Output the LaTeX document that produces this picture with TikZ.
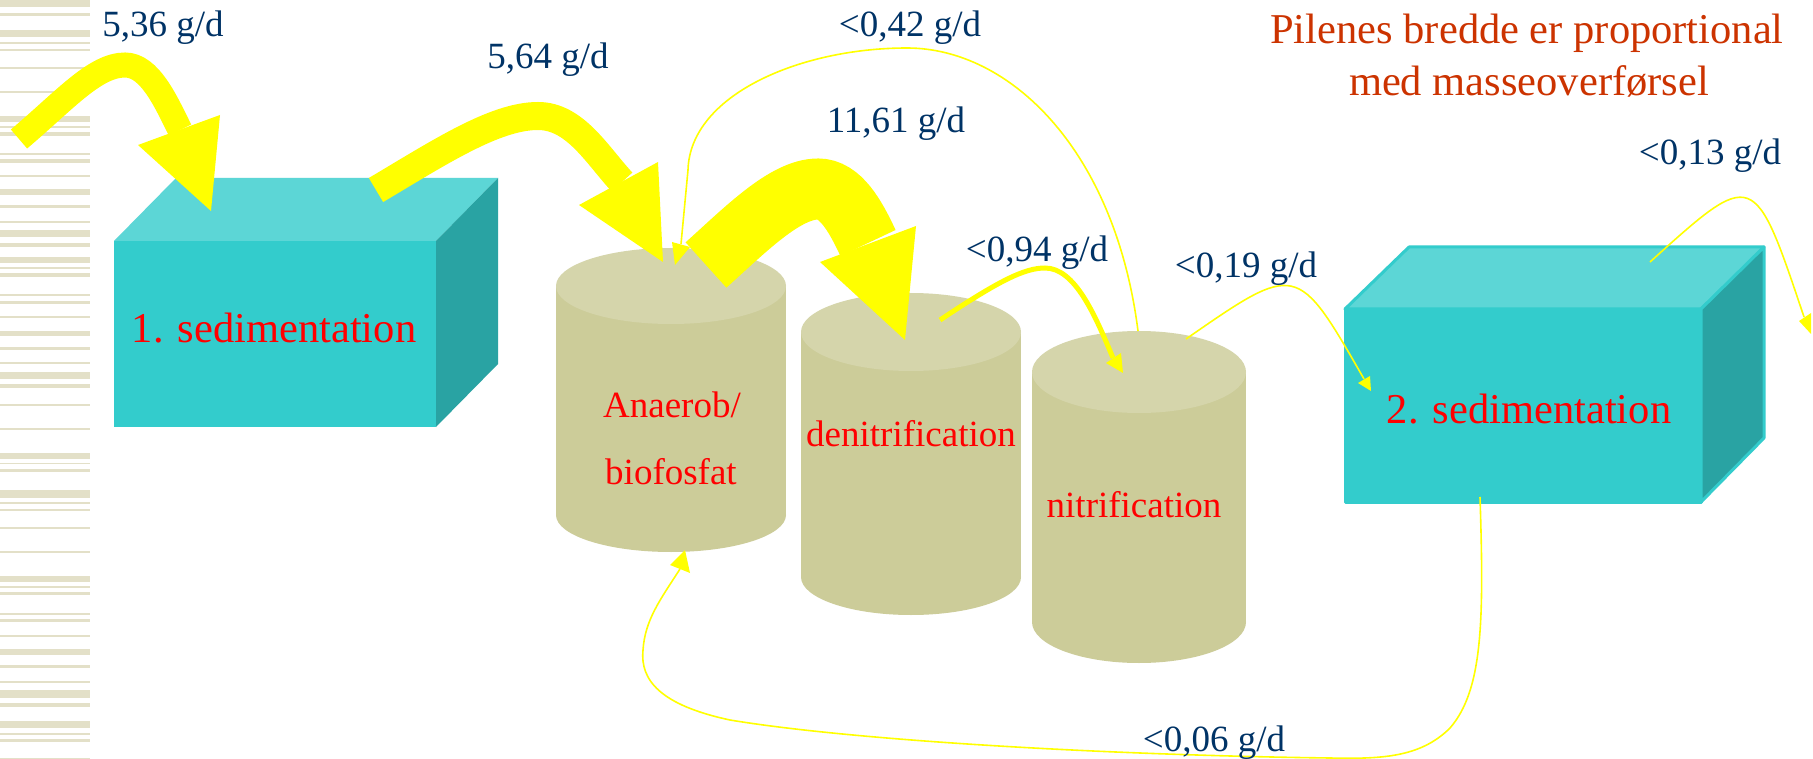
\documentclass[tikz,border=0pt]{standalone}
\usepackage{fontspec}
\setmainfont{Liberation Serif}
\definecolor{lblc}{HTML}{003366}
\definecolor{boxfront}{HTML}{33CCCC}
\definecolor{boxtop}{HTML}{5CD6D6}
\definecolor{boxside}{HTML}{29A3A3}
\definecolor{cyltop}{HTML}{D5D5AB}
\definecolor{cylside}{HTML}{CCCC99}
\definecolor{stripec}{HTML}{E3E0C8}
\definecolor{ttlc}{HTML}{CC3300}
\definecolor{arrowy}{HTML}{FFFF00}
\begin{document}
\begin{tikzpicture}[x=1pt,y=-1pt,
  lbl/.style={text=lblc, font=\fontsize{37}{44}\selectfont, anchor=base, inner sep=0pt},
  boxtxt/.style={text=red, font=\fontsize{42.5}{50}\selectfont, anchor=base, inner sep=0pt},
  cyltxt/.style={text=red, font=\fontsize{37}{44}\selectfont, anchor=base, inner sep=0pt},
  ttl/.style={text=ttlc, font=\fontsize{42.5}{52}\selectfont, anchor=base, inner sep=0pt},
  band/.style={draw=arrowy, line width=#1},
  thinarrow/.style={draw=arrowy, line width=1.6pt},
  headfill/.style={fill=arrowy}]
\useasboundingbox (0,0) rectangle (1813,759);
\fill[white] (0,0) rectangle (1813,759);
% left stripes
\foreach \a/\b in {0/7,13/16,30/37,42/44,49/51,67/69,91/93,116/122,126/128,132/136,153/155,159/163,175/177,189/195,205/208,221/223,230/237,243/247,257/263,267/269,273/277,294/296,301/304,316/318,331/336,347/350,362/364,372/379,384/388,404/406,428/430,453/459,463/464,469/472,490/498,502/504,509/511,527/529,551/553,576/582,586/588,592/595,613/615,619/622,635/637,649/655,665/668,681/683,690/698,703/707,721/728,733/735,739/742,758/760}
  {\fill[stripec] (0,\a) rectangle (90,\b);}
% box 1
\fill[boxfront] (114,241) rectangle (436,427);
\fill[boxtop] (114,241) -- (176,178) -- (498,178) -- (436,241) -- cycle;
\fill[boxside] (436,241) -- (498,178) -- (498,364) -- (436,427) -- cycle;
\node[boxtxt] (sed1) at (274,342) {1. sedimentation};
% box 2
\filldraw[fill=boxfront, draw=boxfront, line width=3pt, line join=round] (1345,309) rectangle (1701,502);
\filldraw[fill=boxtop, draw=boxfront, line width=3pt, line join=round] (1345,309) -- (1409,247) -- (1764,247) -- (1701,309) -- cycle;
\filldraw[fill=boxside, draw=boxfront, line width=3pt, line join=round] (1701,309) -- (1764,247) -- (1764,438) -- (1701,502) -- cycle;
\node[boxtxt] (sed2) at (1529,423) {2. sedimentation};
% cylinders
\fill[cylside] (556,286) rectangle (786,515);
\fill[cylside] (671,515) ellipse [x radius=115, y radius=37];
\fill[cyltop] (671,286) ellipse [x radius=115, y radius=38];
\fill[cylside] (801,332) rectangle (1021,577);
\fill[cylside] (911,577) ellipse [x radius=110, y radius=38];
\fill[cyltop] (911,332) ellipse [x radius=110, y radius=39];
\fill[cylside] (1032,372) rectangle (1246,622);
\fill[cylside] (1139,622) ellipse [x radius=107, y radius=41];
\fill[cyltop] (1139,372) ellipse [x radius=107, y radius=41];
\node[cyltxt] (anae) at (672,417) {Anaerob/};
\node[cyltxt] (biof) at (671,484) {biofosfat};
\node[cyltxt] (deni) at (911,446) {denitrification};
\node[cyltxt] (nitr) at (1134,517) {nitrification};
% coordinates
\coordinate (aS) at (19,139);   \coordinate (aP) at (125,65);  \coordinate (aE) at (180,130);
\coordinate (bS) at (376,190);  \coordinate (bP) at (538,116); \coordinate (bE) at (622,182);
\coordinate (cS) at (706,265);  \coordinate (cP) at (818,189); \coordinate (cE) at (868,243);
\coordinate (dS) at (940,320);  \coordinate (dE) at (1113,358);
\coordinate (eS) at (1186,339); \coordinate (eE) at (1364,379);
\coordinate (fS) at (1138,331); \coordinate (fE) at (681,244);
\coordinate (gS) at (1650,262); \coordinate (gE) at (1804,317);
\coordinate (hS) at (1480,497); \coordinate (hE) at (680,569);
% thick arrows
\draw[band=25pt] (aS) .. controls (65,100) and (95,65) .. (aP)
  .. controls (150,65) and (166,102) .. (aE);
\fill[headfill] (138,145) -- (211,211) -- (220,115) -- cycle;
\draw[band=28pt] (bS) .. controls (440,152) and (495,116) .. (bP)
  .. controls (575,116) and (597,155) .. (bE);
\fill[headfill] (579,205) -- (663,262) -- (658,162) -- cycle;
\draw[band=61pt] (cS) .. controls (745,230) and (785,189) .. (cP)
  .. controls (840,189) and (855,215) .. (cE);
\fill[headfill] (820,262) -- (905,340) -- (916,226) -- cycle;
\draw[band=5pt] (dS) .. controls (1000,280) and (1025,268) .. (1045,268)
  .. controls (1075,268) and (1095,315) .. (dE);
\fill[headfill] (1106,363) -- (1123,373) -- (1121,353) -- cycle;
% thin arrows
\draw[thinarrow] (eS) .. controls (1297,262) and (1297,262) .. (eE);
\fill[headfill] (1358,383) -- (1371,391) -- (1370,376) -- cycle;
\draw[thinarrow] (fS) .. controls (1115,150) and (1010,48) .. (907,48)
  .. controls (800,48) and (690,95) .. (688,170) -- (fE);
\fill[headfill] (672,242) -- (675,265) -- (690,247) -- cycle;
\draw[thinarrow] (gS) .. controls (1754,168) and (1754,168) .. (gE);
\fill[headfill] (1799,321) -- (1811,334) -- (1811,313) -- cycle;
\draw[thinarrow] (hS) .. controls (1484,620) and (1483,690) .. (1450,728)
  .. controls (1420,758) and (1380,759) .. (1330,758)
  .. controls (1100,755) and (850,740) .. (730,720)
  .. controls (660,705) and (640,680) .. (643,650)
  .. controls (645,620) and (660,600) .. (hE);
\fill[headfill] (670,565) -- (685,550) -- (690,573) -- cycle;
% labels
\node[lbl] (l536) at (163,37) {5,36 g/d};
\node[lbl] (l564) at (548,69) {5,64 g/d};
\node[lbl] (l042) at (910,37) {<0,42 g/d};
\node[lbl] (l1161) at (896,133) {11,61 g/d};
\node[lbl] (l094) at (1037,262) {<0,94 g/d};
\node[lbl] (l019) at (1246,278) {<0,19 g/d};
\node[lbl] (l013) at (1710,165) {<0,13 g/d};
\node[lbl] (l006) at (1214,751) {<0,06 g/d};
\node[ttl] (title1) at (1527,44) {Pilenes bredde er proportional};
\node[ttl] (title2) at (1529,96) {med masseoverførsel};
\end{tikzpicture}
\end{document}
